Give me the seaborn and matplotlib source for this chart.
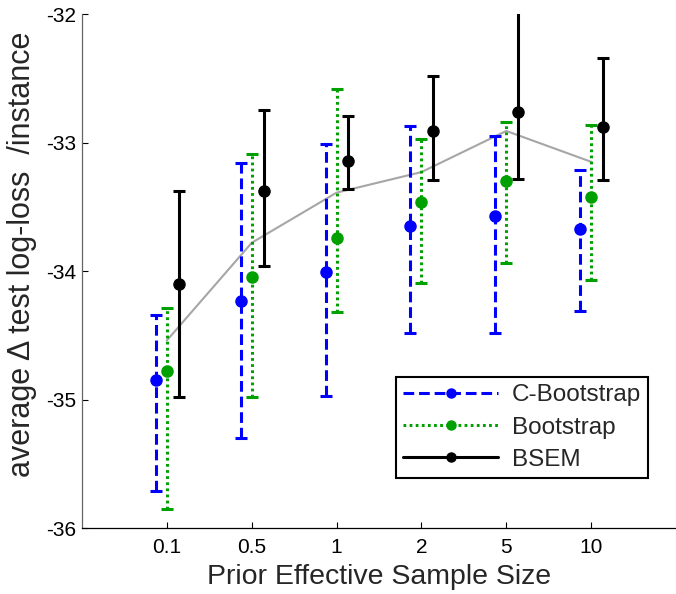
import numpy as np
import pandas as pd
import seaborn as sns
import matplotlib
matplotlib.use("Agg")
import matplotlib.pyplot as plt
from matplotlib.lines import Line2D

# ---- data ----
sample_sizes = ['0.1', '0.5', '1', '2', '5', '10']

reference_line = [-34.54, -33.78, -33.39, -33.23, -32.91, -33.15]

cboot_mean = [-34.85, -34.23, -34.01, -33.65, -33.57, -33.67]
cboot_hi   = [-34.34, -33.16, -33.01, -32.87, -32.95, -33.21]
cboot_lo   = [-35.71, -35.30, -34.97, -34.48, -34.48, -34.31]

boot_mean = [-34.78, -34.05, -33.74, -33.46, -33.30, -33.42]
boot_hi   = [-34.29, -33.09, -32.58, -32.97, -32.84, -32.86]
boot_lo   = [-35.85, -34.98, -34.32, -34.09, -33.94, -34.07]

bsem_mean = [-34.10, -33.38, -33.14, -32.91, -32.76, -32.88]
bsem_hi   = [-33.38, -32.75, -32.79, -32.48, -31.90, -32.34]
bsem_lo   = [-34.98, -33.96, -33.36, -33.29, -33.28, -33.29]

series_names = ['C-Bootstrap', 'Bootstrap', 'BSEM']

# ---- styling ----
sns.set_theme(style="white")
plt.rcParams['font.family'] = ['Liberation Sans', 'DejaVu Sans']

fig = plt.figure(figsize=(6.76, 5.94), dpi=100)
ax = fig.add_axes([0.1213, 0.111, 0.8787, 0.8654])

pos = np.arange(1, len(sample_sizes) + 1)

# gray reference curve via seaborn
df_ref = pd.DataFrame({'pos': pos, 'val': reference_line})
sns.lineplot(data=df_ref, x='pos', y='val', ax=ax, color='#a6a6a6', lw=1.5,
             zorder=1, legend=False)

specs = [
    (cboot_mean, cboot_lo, cboot_hi, -0.13, '#0000ff', (0, (3.5, 1.6))),
    (boot_mean, boot_lo, boot_hi, 0.0, '#00a000', (0, (0.9, 1.1))),
    (bsem_mean, bsem_lo, bsem_hi, 0.14, '#000000', '-'),
]

handles = []
for (m, lo, hi, off, col, ls), name in zip(specs, series_names):
    m = np.array(m); lo = np.array(lo); hi = np.array(hi)
    yerr = np.vstack([m - lo, hi - m])
    eb = ax.errorbar(pos + off, m, yerr=yerr, fmt='o', color=col, ms=8,
                     elinewidth=2.2, capsize=4, capthick=2.2, zorder=3)
    eb[2][0].set_linestyle(ls)
    handles.append(Line2D([0], [0], color=col, lw=2.2, ls=ls, marker='o', ms=6.5))

ax.set_xlim(0, 7)
ax.set_ylim(-36, -32)
ax.set_xticks(pos)
ax.set_xticklabels(sample_sizes)
ax.set_yticks([-36, -35, -34, -33, -32])
ax.set_yticklabels(['-36', '-35', '-34', '-33', '-32'])
ax.tick_params(axis='both', direction='in', length=4, width=0.8, labelsize=15,
               colors='black', bottom=True, left=True)
ax.tick_params(axis='x', pad=7)
ax.tick_params(axis='y', pad=4)

for s in ['top', 'right']:
    ax.spines[s].set_visible(False)
ax.spines['left'].set_color('#666666')
ax.spines['bottom'].set_color('black')
ax.spines['left'].set_linewidth(0.9)
ax.spines['bottom'].set_linewidth(0.9)

ax.set_xlabel('Prior Effective Sample Size', fontsize=20.5, labelpad=5)
ax.set_ylabel('average Δ test log-loss  /instance', fontsize=22)
ax.yaxis.set_label_coords(-0.075, 0.532)

leg = ax.legend(handles, series_names, loc='lower right',
                bbox_to_anchor=(0.953, 0.097), borderaxespad=0,
                fontsize=17.5, handlelength=3.9, handletextpad=0.55,
                labelspacing=0.42, borderpad=0.3, frameon=True, fancybox=False)
leg.get_frame().set_edgecolor('black')
leg.get_frame().set_linewidth(1.5)
leg.get_frame().set_facecolor('white')
leg.get_frame().set_alpha(1)

fig.savefig('out.png', dpi=100)
